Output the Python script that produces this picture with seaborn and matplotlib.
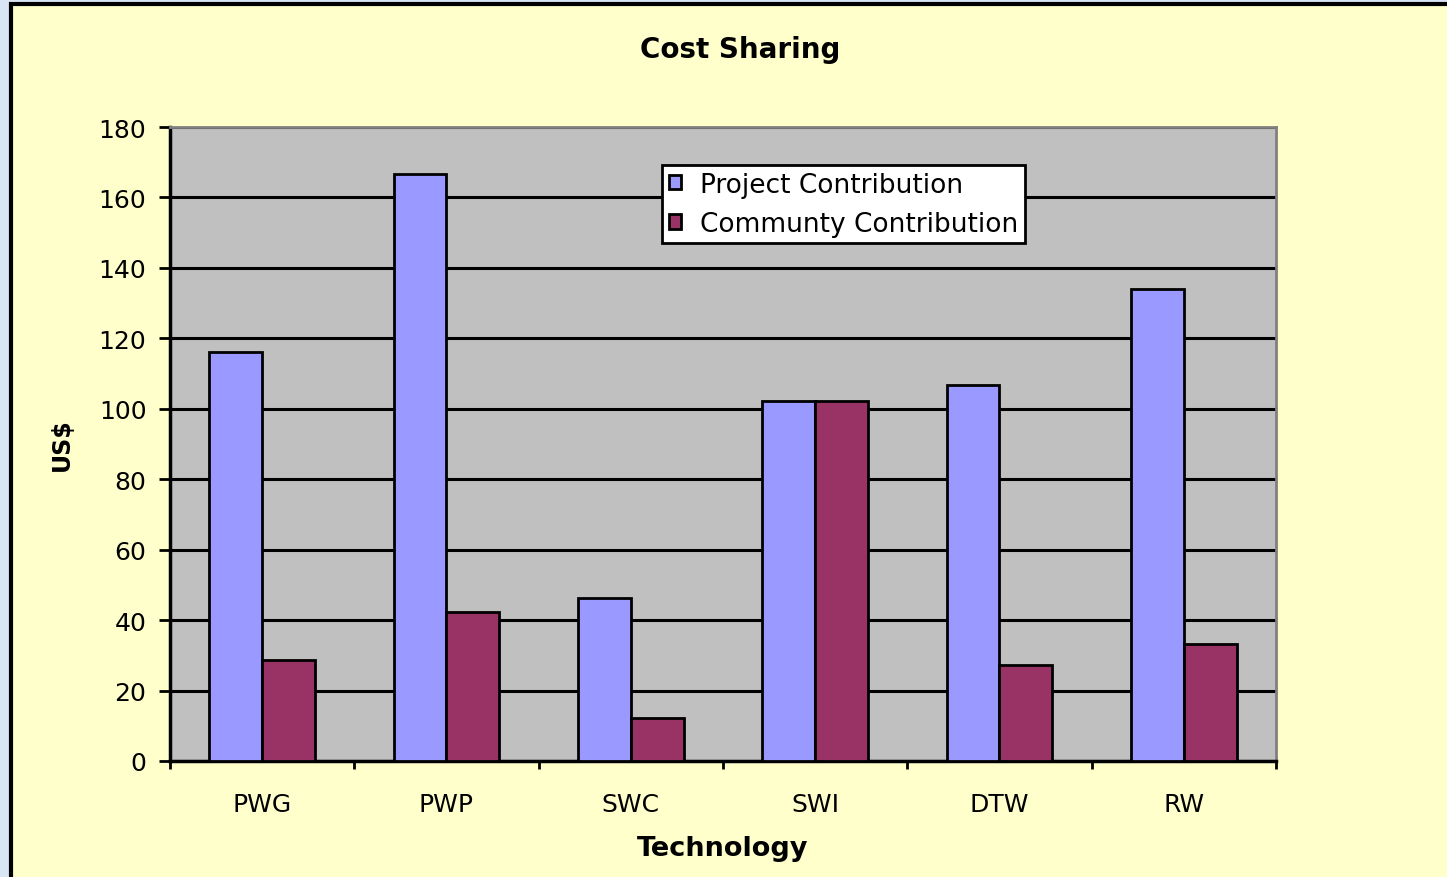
import pandas as pd
import seaborn as sns
import matplotlib.pyplot as plt
from matplotlib.patches import Rectangle
from matplotlib.ticker import FixedLocator

# =========================================================
# DATA
# =========================================================

technologies = ["PWG", "PWP", "SWC", "SWI", "DTW", "RW"]
project_contribution = [116, 166.7, 46.2, 102.2, 106.8, 134]
community_contribution = [28.6, 42.3, 12.2, 102.2, 27.3, 33.2]
series_names = ["Project Contribution", "Communty Contribution"]

df = pd.DataFrame({
    "Technology": technologies * 2,
    "Value": project_contribution + community_contribution,
    "Series": [series_names[0]] * 6 + [series_names[1]] * 6,
})

# =========================================================
# FIGURE
# =========================================================

sns.set_style("white")
plt.rcParams["font.family"] = ["DejaVu Sans"]
plt.rcParams["text.color"] = "black"

fig = plt.figure(figsize=(14.47, 8.78), dpi=100)
fig.patch.set_facecolor("#D9E4F4")

# yellow chart panel
panel = Rectangle(
    (11 / 1447, -0.05), 1.1, 1 - 5 / 878 + 0.05,
    transform=fig.transFigure, facecolor="#FFFFCC",
    edgecolor="black", linewidth=3, zorder=-10
)
fig.patches.append(panel)

ax = fig.add_axes([170 / 1447, 1 - 762 / 878, 1106 / 1447, 634 / 878])
ax.set_facecolor("#C0C0C0")

sns.barplot(
    data=df,
    x="Technology",
    y="Value",
    hue="Series",
    palette=["#9999FF", "#993366"],
    saturation=1,
    width=0.575,
    edgecolor="black",
    linewidth=2,
    ax=ax,
    zorder=3,
)

ax.set_ylim(0, 180)
ax.set_xlim(-0.5, 5.5)
ax.set_yticks(range(0, 181, 20))
ax.yaxis.grid(True, color="black", linewidth=2.2, zorder=0)
ax.set_axisbelow(True)

ax.tick_params(axis="y", left=True, labelsize=18, length=8, width=2,
               direction="out", pad=9, colors="black")
ax.tick_params(axis="x", which="major", bottom=True, labelsize=18, length=0,
               pad=22, colors="black")
ax.xaxis.set_minor_locator(FixedLocator([i - 0.5 for i in range(7)]))
ax.tick_params(axis="x", which="minor", bottom=True, length=6, width=2,
               direction="out", color="black")

for side in ["left", "bottom"]:
    ax.spines[side].set_color("black")
    ax.spines[side].set_linewidth(2.5)
for side in ["top", "right"]:
    ax.spines[side].set_color("#808080")
    ax.spines[side].set_linewidth(2)

ax.set_xlabel("Technology", fontsize=19.5, fontweight="bold", labelpad=14,
              color="black")
ax.set_ylabel("US$", fontsize=17, fontweight="bold", labelpad=18,
              color="black")
fig.text(740 / 1447, 1 - 50 / 878, "Cost Sharing", ha="center", va="center",
         fontsize=20, fontweight="bold", color="black")

leg = ax.legend(
    loc="upper left",
    bbox_to_anchor=(0.445, 0.94),
    borderaxespad=0,
    fontsize=19,
    fancybox=False,
    framealpha=1,
    edgecolor="black",
    handlelength=0.45,
    handleheight=0.45,
    handletextpad=0.75,
    labelspacing=0.5,
    borderpad=0.25,
    title=None,
)
leg.get_frame().set_linewidth(2)
leg.set_zorder(10)

plt.savefig("out.png", dpi=100, facecolor=fig.get_facecolor())
plt.close()
